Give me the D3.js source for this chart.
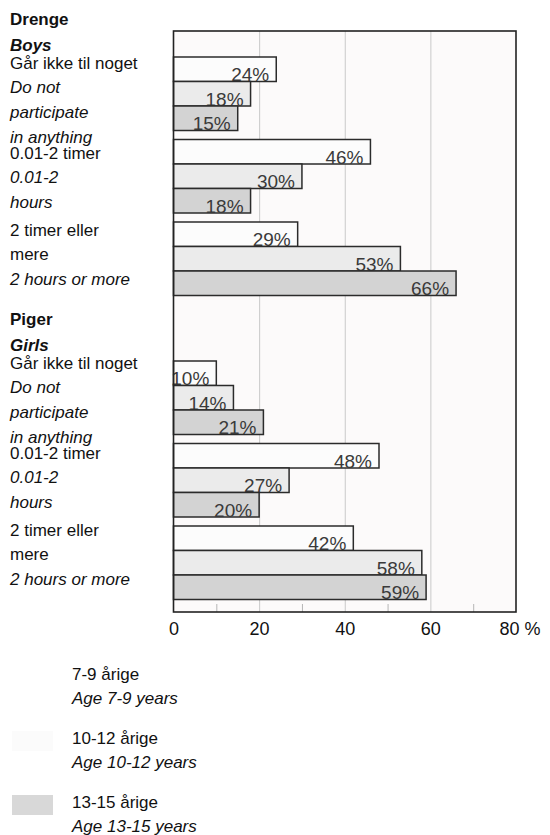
<!DOCTYPE html>
<html>
<head>
<meta charset="utf-8">
<script src="https://cdn.jsdelivr.net/npm/d3@7"></script>
<style>
  body { margin: 0; background: #fff; }
  text { font-family: "Liberation Sans", Arial, Helvetica, sans-serif; fill: #111; }
</style>
</head>
<body>
<svg id="chart" width="550" height="835"></svg>
<script>
// sections / categories / age groups
var sections = ["Drenge", "Piger"];
var sectionsEn = ["Boys", "Girls"];
var categories = ["none", "short", "long"];
var catLabelsDa = [["Går ikke til noget"], ["0.01-2 timer"], ["2 timer eller", "mere"]];
var catLabelsEn = [["Do not", "participate", "in anything"], ["0.01-2", "hours"], ["2 hours or more"]];
var ages = ["7-9 årige", "10-12 årige", "13-15 årige"];
var agesEn = ["Age 7-9 years", "Age 10-12 years", "Age 13-15 years"];

// percent values, rows = categories, cols = age groups
var boysValues = [[24, 18, 15], [46, 30, 18], [29, 53, 66]];
var girlsValues = [[10, 14, 21], [48, 27, 20], [42, 58, 59]];

var xTicks = [0, 20, 40, 60, 80];
var gridTicks = [20, 40, 60];
var minorTicks = [10, 30, 50, 70];

var colors = ["#fcfcfc", "#ebebeb", "#d3d3d3"];
var legendColors = ["#ffffff", "#fbfbfb", "#d8d8d8"];

var svg = d3.select("#chart");

var plotTop = 31, plotBottom = 612;
var x = d3.scaleLinear().domain([0, 80]).range([173.5, 516]);

var sectionY = d3.scaleOrdinal().domain(sections).range([57, 361]);
// the text column sits a little off from the bars in the original
var labelY = d3.scaleOrdinal().domain(sections).range([59, 359]);
var yGroup = d3.scaleBand().domain(categories).range([0, 238.5]).paddingInner(9 / 82.5);
var yAge = d3.scaleBand().domain(ages).range([0, yGroup.bandwidth()]);

// plot background
svg.append("rect")
    .attr("x", x(0))
    .attr("y", plotTop)
    .attr("width", x(80) - x(0))
    .attr("height", plotBottom - plotTop)
    .attr("fill", "#fcfafa");

// grid lines
svg.append("g")
    .attr("transform", `translate(0,${plotBottom})`)
    .call(d3.axisBottom(x).tickValues(gridTicks).tickSize(-(plotBottom - plotTop)).tickFormat(""))
    .call(g => g.select(".domain").remove())
    .selectAll("line")
    .attr("stroke", "#c9c9c9")
    .attr("stroke-width", 1);

// small ticks at the bottom
svg.append("g")
    .attr("transform", `translate(0,${plotBottom})`)
    .call(d3.axisTop(x).tickValues(minorTicks).tickSize(8).tickFormat(""))
    .call(g => g.select(".domain").remove())
    .selectAll("line")
    .attr("stroke", "#b5b5b5");

// bars
var allValues = [boysValues, girlsValues];
sections.forEach(function(sec, s) {
    var g = svg.append("g").attr("transform", `translate(0,${sectionY(sec)})`);
    categories.forEach(function(cat, c) {
        ages.forEach(function(age, a) {
            var v = allValues[s][c][a];
            var y0 = yGroup(cat) + yAge(age);
            g.append("rect")
                .attr("x", x(0))
                .attr("y", y0)
                .attr("width", x(v) - x(0))
                .attr("height", yAge.bandwidth())
                .attr("fill", colors[a])
                .attr("stroke", "#2b2b2b")
                .attr("stroke-width", 1.5);
            g.append("text")
                .attr("x", x(v) - 7)
                .attr("y", y0 + yAge.bandwidth() - 0.5)
                .attr("text-anchor", "end")
                .style("font-size", "19px")
                .style("fill", "#3a3a3a")
                .text(v + "%");
        });
    });
});

// frame on top
svg.append("rect")
    .attr("x", x(0))
    .attr("y", plotTop)
    .attr("width", x(80) - x(0))
    .attr("height", plotBottom - plotTop)
    .attr("fill", "none")
    .attr("stroke", "#222")
    .attr("stroke-width", 1.6);

// x axis labels
var xAxis = svg.append("g")
    .attr("transform", `translate(0,${plotBottom})`)
    .call(d3.axisBottom(x).tickValues(xTicks).tickSize(0).tickPadding(10)
        .tickFormat(d => d === 80 ? "80 %" : d));
xAxis.select(".domain").remove();
xAxis.selectAll("text")
    .attr("font-family", null)
    .style("font-size", "18px")
    .style("fill", "#111");
xAxis.selectAll(".tick").filter(d => d === 80).select("text")
    .attr("text-anchor", "start")
    .attr("x", -17);

// left labels
var lineH = 24.8;
var labelShift = [9.5, 17, 11.5];
sections.forEach(function(sec, s) {
    var top = labelY(sec);
    svg.append("text")
        .attr("x", 10).attr("y", top - 34)
        .style("font-size", "17px").style("font-weight", "bold")
        .text(sec);
    svg.append("text")
        .attr("x", 10).attr("y", top - 8.5)
        .style("font-size", "17px").style("font-weight", "bold").style("font-style", "italic")
        .text(sectionsEn[s]);
    categories.forEach(function(cat, c) {
        var y0 = top + yGroup(cat) + labelShift[c];
        var lines = catLabelsDa[c].map(t => ({t: t, it: false}))
            .concat(catLabelsEn[c].map(t => ({t: t, it: true})));
        lines.forEach(function(l, i) {
            svg.append("text")
                .attr("x", 10)
                .attr("y", y0 + i * lineH)
                .style("font-size", "17px")
                .style("font-style", l.it ? "italic" : "normal")
                .text(l.t);
        });
    });
});

// legend
var legend = svg.append("g").attr("transform", "translate(0,680)");
ages.forEach(function(age, i) {
    var ly = i * 64;
    legend.append("rect")
        .attr("x", 12).attr("y", ly - 13)
        .attr("width", 41).attr("height", 20)
        .attr("fill", legendColors[i]);
    legend.append("text")
        .attr("x", 72).attr("y", ly)
        .style("font-size", "17px")
        .text(age);
    legend.append("text")
        .attr("x", 72).attr("y", ly + 23.5)
        .style("font-size", "17px").style("font-style", "italic")
        .text(agesEn[i]);
});
</script>
</body>
</html>
